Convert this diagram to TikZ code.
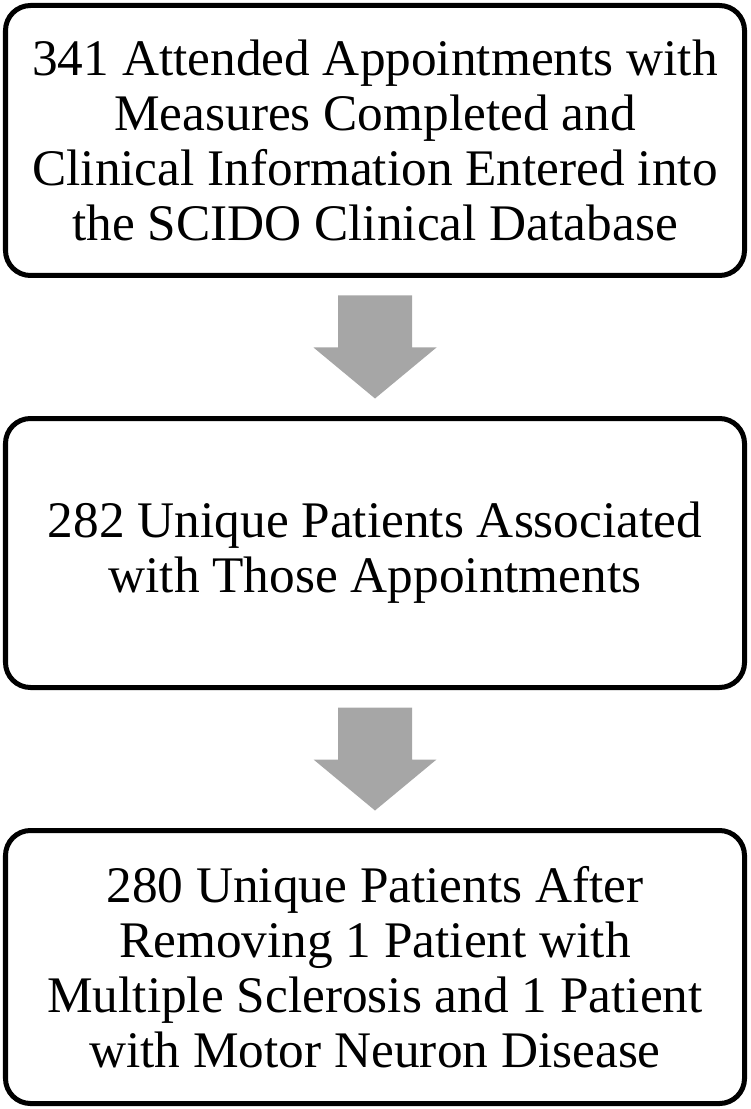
\documentclass[tikz,border=0pt]{standalone}
\usepackage{fontspec}
\setmainfont{Liberation Serif}
\usetikzlibrary{calc}
\definecolor{arrowgray}{RGB}{166,166,166}
\tikzset{
  stagebox/.style={draw, line width=0.1cm, rounded corners=0.5cm, minimum width=14.78cm,
    inner sep=0pt, align=center, font=\fontsize{29.2}{31.2}\selectfont},
  blockarrow/.style={fill=arrowgray}
}
\begin{document}
\begin{tikzpicture}
\useasboundingbox (0,0) rectangle (15,-22.18);
% the three stages
\node[stagebox, minimum height=5.4cm] (appts) at (7.5,-2.81) {341 Attended Appointments with\\Measures Completed and\\Clinical Information Entered into\\the SCIDO Clinical Database};
\node[stagebox, minimum height=5.38cm] (unique) at (7.5,-11.06) {282 Unique Patients Associated\\with Those Appointments};
\node[stagebox, minimum height=5.46cm] (final) at (7.5,-19.34) {280 Unique Patients After\\Removing 1 Patient with\\Multiple Sclerosis and 1 Patient\\with Motor Neuron Disease};
% block arrows between the stages
\foreach \u/\v in {appts/unique, unique/final}
  \fill[blockarrow] ($(\u.south)!.5!(\v.north)$) ++(-.74,1.03) -- ++(1.48,0) -- ++(0,-1.04)
    -- ++(.49,0) -- ++(-1.23,-1.02) -- ++(-1.23,1.02) -- ++(.49,0) -- cycle;
\end{tikzpicture}
\end{document}
